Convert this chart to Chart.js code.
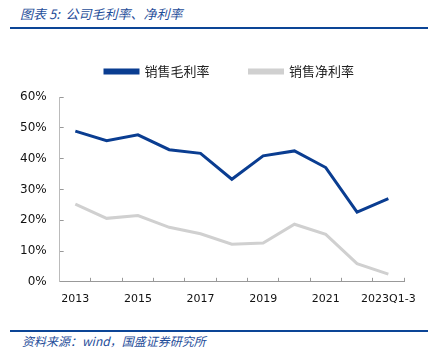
<!DOCTYPE html>
<html>
<head>
<meta charset="utf-8">
<script src="https://cdn.jsdelivr.net/npm/chart.js@4"></script>
<style>
  body { margin: 0; background: #fff; width: 435px; height: 364px; position: relative; overflow: hidden; }
  .title { position: absolute; left: 20px; top: 4px; font: italic 13px "Noto Sans CJK SC"; color: #1f4e9a; }
  .topline { position: absolute; left: 10px; top: 27px; width: 418px; height: 2px; background: #0c4596; }
  .botline { position: absolute; left: 10px; top: 330px; width: 418px; height: 2px; background: #0c4596; }
  .source { position: absolute; left: 22px; top: 332px; font: italic 12px "Noto Sans CJK SC"; color: #1f4e9a; }
  #wrap { position: absolute; left: 0; top: 11px; width: 435px; height: 310px; }
</style>
</head>
<body>
<div class="title">图表 5:&nbsp; 公司毛利率、净利率</div>
<div class="topline"></div>
<div id="wrap"><canvas id="linechart"></canvas></div>
<div class="botline"></div>
<div class="source">资料来源：wind，国盛证券研究所</div>
<script>
const years = ['2013','2014','2015','2016','2017','2018','2019','2020','2021','2022','2023Q1-3']
const grossMargin = [48.9, 45.8, 47.7, 42.9, 41.7, 33.3, 40.9, 42.5, 37.1, 22.6, 27.0]
const netMargin = [25.2, 20.6, 21.5, 17.7, 15.6, 12.2, 12.6, 18.7, 15.4, 5.9, 2.5]

const ctx = document.getElementById('linechart')

// legend spacing + shift it right a bit
const legendTweak = {
  id: 'legendTweak',
  beforeInit(chart) {
    const fit = chart.legend.fit
    chart.legend.fit = function() {
      fit.bind(chart.legend)()
      this.height += 9
    }
  },
  afterLayout(chart) {
    chart.legend.left += 26
    chart.legend.right += 26
  }
}

new Chart(ctx, {
  type: 'line',
  data: {
    labels: years,
    datasets: [{
      label: '销售毛利率',
      data: grossMargin,
      borderWidth: 3,
      backgroundColor: '#0a3d91',
      borderColor: '#0a3d91',
      pointRadius: 0,
      tension: 0
    }, {
      label: '销售净利率',
      data: netMargin,
      borderWidth: 3,
      backgroundColor: '#d0d0d0',
      borderColor: '#d0d0d0',
      pointRadius: 0,
      tension: 0
    }]
  },
  options: {
    responsive: true,
    maintainAspectRatio: false,
    animation: false,
    layout: { padding: { left: 3, right: 31, top: 14, bottom: 0 } },
    plugins: {
      tooltip: { enabled: false },
      legend: {
        position: 'top',
        labels: {
          boxWidth: 33,
          boxHeight: 3,
          padding: 40,
          color: '#222',
          font: { family: 'Noto Sans CJK SC', size: 13 }
        }
      }
    },
    scales: {
      x: {
        offset: true,
        grid: { drawOnChartArea: false, color: '#999', tickLength: -4, offset: true },
        border: { color: '#999' },
        ticks: {
          autoSkip: false,
          maxRotation: 0,
          color: '#111',
          font: { family: 'DejaVu Sans', size: 11 },
          padding: 15,
          callback: function(v, i) { return i % 2 === 0 ? years[i] : '' }
        }
      },
      y: {
        min: 0,
        max: 60,
        grid: { drawOnChartArea: false, color: '#999', tickLength: -4 },
        border: { color: '#bbb' },
        ticks: {
          stepSize: 10,
          color: '#111',
          font: { family: 'DejaVu Sans', size: 12 },
          padding: 17,
          callback: function(v) { return v + '%' }
        }
      }
    }
  },
  plugins: [legendTweak]
})
</script>
</body>
</html>
